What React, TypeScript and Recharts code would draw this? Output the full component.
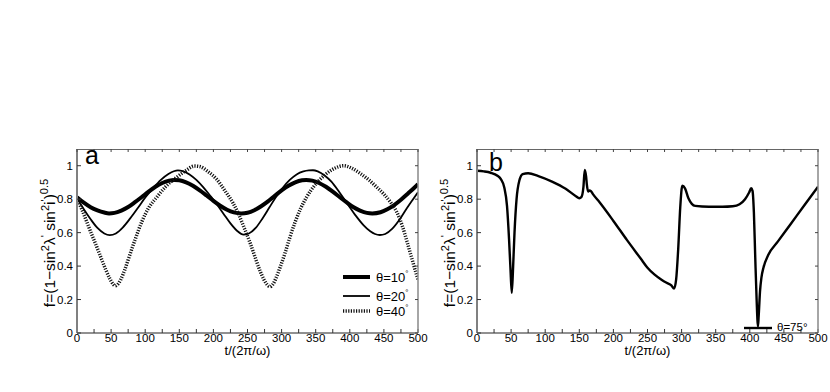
import React from 'react';
import { LineChart, Line, XAxis, YAxis, Legend } from 'recharts';

// ---------- axes ----------
const X_TICKS = [0, 25, 50, 75, 100, 125, 150, 175, 200, 225, 250, 275, 300, 325, 350, 375, 400, 425, 450, 475, 500];
const Y_TICKS = [0, 0.2, 0.4, 0.6, 0.8, 1];
const X_DOMAIN: [number, number] = [0, 500];
const Y_DOMAIN: [number, number] = [0, 1.1];

// ---------- panel a : theta = 10 deg ----------
const T10 = [0, 10, 20, 30, 40, 47, 55, 65, 75, 85, 95, 105, 115, 125, 135, 143, 150, 160, 170, 180, 190, 200, 210, 220, 230, 241, 250, 260, 270, 280, 290, 300, 310, 320, 330, 336, 345, 355, 365, 375, 385, 395, 405, 415, 425, 433, 445, 455, 465, 475, 485, 495, 500];
const F10 = [0.812, 0.779, 0.752, 0.733, 0.720, 0.715, 0.718, 0.732, 0.753, 0.782, 0.813, 0.845, 0.874, 0.897, 0.911, 0.915, 0.913, 0.901, 0.880, 0.853, 0.822, 0.790, 0.761, 0.737, 0.721, 0.715, 0.719, 0.734, 0.758, 0.787, 0.820, 0.852, 0.880, 0.901, 0.913, 0.915, 0.911, 0.897, 0.874, 0.845, 0.813, 0.782, 0.753, 0.732, 0.718, 0.715, 0.722, 0.740, 0.765, 0.797, 0.833, 0.870, 0.890];

// ---------- panel a : theta = 20 deg ----------
const T20 = [0, 10, 20, 30, 40, 48, 57, 67, 78, 90, 101, 112, 123, 134, 142, 148, 155, 165, 175, 185, 195, 205, 215, 225, 235, 244, 252, 262, 272, 282, 292, 302, 312, 322, 332, 340, 346, 353, 363, 373, 385, 397, 409, 420, 430, 437, 444, 452, 462, 472, 482, 492, 500];
const F20 = [0.805, 0.740, 0.680, 0.628, 0.595, 0.585, 0.595, 0.630, 0.685, 0.752, 0.815, 0.868, 0.915, 0.950, 0.967, 0.972, 0.968, 0.948, 0.915, 0.872, 0.822, 0.770, 0.712, 0.655, 0.610, 0.588, 0.595, 0.628, 0.685, 0.750, 0.815, 0.870, 0.915, 0.948, 0.966, 0.972, 0.973, 0.966, 0.942, 0.905, 0.840, 0.770, 0.700, 0.645, 0.608, 0.592, 0.586, 0.592, 0.622, 0.672, 0.735, 0.795, 0.842];

// ---------- panel a : theta = 40 deg ----------
const T40 = [0, 7, 14, 21, 28, 35, 42, 48, 53, 56, 59, 64, 70, 77, 85, 95, 105, 117, 130, 146, 160, 172, 180, 192, 205, 217, 229, 237, 245, 253, 261, 268, 274, 279, 283, 287, 292, 298, 305, 312, 320, 328, 337, 350, 365, 378, 391, 403, 415, 428, 440, 450, 460, 469, 477, 484, 491, 497, 500];
const F40 = [0.805, 0.740, 0.668, 0.595, 0.525, 0.452, 0.380, 0.325, 0.292, 0.282, 0.288, 0.318, 0.378, 0.462, 0.556, 0.665, 0.748, 0.812, 0.875, 0.930, 0.972, 0.998, 0.995, 0.965, 0.918, 0.850, 0.775, 0.710, 0.630, 0.548, 0.455, 0.375, 0.320, 0.288, 0.277, 0.290, 0.330, 0.395, 0.478, 0.570, 0.665, 0.745, 0.815, 0.890, 0.950, 0.985, 1.0, 0.985, 0.955, 0.915, 0.870, 0.830, 0.780, 0.722, 0.640, 0.545, 0.445, 0.360, 0.320];

// ---------- panel b : theta = 75 deg ----------
const T75 = [0, 10, 20, 30, 35, 40, 44, 47, 49, 51, 53, 55, 58, 62, 67, 75, 90, 110, 130, 145, 150, 153, 156, 158, 160, 161, 163, 165, 167, 170, 180, 200, 220, 240, 250, 260, 270, 278, 285, 289, 292, 295, 298, 301, 305, 310, 315, 320, 340, 360, 375, 385, 393, 399, 402, 404, 406, 408, 410, 412, 413, 415, 417, 420, 427, 441, 460, 480, 500];
const F75 = [0.970, 0.966, 0.958, 0.940, 0.920, 0.870, 0.760, 0.560, 0.390, 0.240, 0.400, 0.600, 0.800, 0.910, 0.950, 0.955, 0.938, 0.905, 0.862, 0.818, 0.806, 0.812, 0.870, 0.975, 0.935, 0.890, 0.845, 0.852, 0.848, 0.830, 0.780, 0.670, 0.555, 0.445, 0.390, 0.350, 0.320, 0.300, 0.285, 0.265, 0.320, 0.500, 0.750, 0.880, 0.865, 0.805, 0.772, 0.760, 0.755, 0.755, 0.758, 0.770, 0.800, 0.840, 0.865, 0.850, 0.720, 0.450, 0.200, 0.040, 0.100, 0.250, 0.330, 0.390, 0.466, 0.546, 0.652, 0.764, 0.875];

const toRows = (ts: number[], fs: number[]) => ts.map((t, i) => ({ t, f: fs[i] }));

const FONT = "'Liberation Sans', Arial, Helvetica, sans-serif";
const W = 430;
const H = 392;
const MARGIN = { top: 149, right: 12, bottom: 19, left: 0 };
const PLOT_L = 77;
const PLOT_T = 149;
const PLOT_W = 341;
const PLOT_H = 184;
const PLOT_CY = PLOT_T + PLOT_H / 2;
const PLOT_CX = PLOT_L + PLOT_W / 2;

const SUP = 11;

// y-axis title, panel letter, and the box frame (top/right edges with inward ticks)
function YLabel(props: any) {
  const { letter, lx, ly, viewBox } = props;
  const top = viewBox && typeof viewBox.y === 'number' ? viewBox.y : PLOT_T;
  const h = viewBox && typeof viewBox.height === 'number' ? viewBox.height : PLOT_H;
  const left = viewBox && typeof viewBox.x === 'number' ? viewBox.x + viewBox.width : PLOT_L;
  const right = left + PLOT_W;
  const sx = (t: number) => left + ((t - X_DOMAIN[0]) / (X_DOMAIN[1] - X_DOMAIN[0])) * PLOT_W;
  const sy = (v: number) => top + h - ((v - Y_DOMAIN[0]) / (Y_DOMAIN[1] - Y_DOMAIN[0])) * h;
  return (
    <g>
      <line x1={left} x2={right} y1={top + 0.5} y2={top + 0.5} stroke="#666" strokeWidth={1} />
      <line x1={right} x2={right} y1={top} y2={top + h} stroke="#888" strokeWidth={1.5} />
      {X_TICKS.map((t) => (
        <line key={'tx' + t} x1={sx(t)} x2={sx(t)} y1={top} y2={top + 3} stroke="#444" strokeWidth={1} />
      ))}
      {Y_TICKS.map((v) => (
        <line key={'ty' + v} x1={right - 3} x2={right} y1={sy(v)} y2={sy(v)} stroke="#444" strokeWidth={1} />
      ))}
      <text
        transform={`translate(55, ${PLOT_CY + 2}) rotate(-90)`}
        textAnchor="middle"
        fontSize={15.5}
        fontFamily={FONT}
        fill="#000"
      >
        <tspan>f=(1−sin</tspan>
        <tspan dy={-6} fontSize={SUP}>2</tspan>
        <tspan dy={6}>λ</tspan>
        <tspan dy={-6} fontSize={SUP}>'</tspan>
        <tspan dy={6}> sin</tspan>
        <tspan dy={-6} fontSize={SUP}>2</tspan>
        <tspan dy={6}>i</tspan>
        <tspan dy={-6} fontSize={SUP}>'</tspan>
        <tspan dy={6}>)</tspan>
        <tspan dy={-7} fontSize={SUP}>0.5</tspan>
      </text>
      <text x={lx} y={ly} fontSize={25} fontFamily={FONT} fill="#000">{letter}</text>
    </g>
  );
}

function XLabel() {
  return (
    <text x={PLOT_CX} y={355} textAnchor="middle" fontSize={13} fontFamily={FONT} fill="#000">
      t/(2π/ω)
    </text>
  );
}

const LegendA = () => (
  <svg width={90} height={56} style={{ overflow: 'visible', display: 'block' }}>
    <line x1={5} x2={32} y1={11} y2={11} stroke="#000" strokeWidth={4} />
    <line x1={5} x2={32} y1={30} y2={30} stroke="#000" strokeWidth={1.8} />
    <line x1={5} x2={32} y1={45} y2={45} stroke="#111" strokeWidth={3.5} strokeDasharray="1.2 1.4" />
    {[['10', 11], ['20', 30], ['40', 45]].map(([v, y]) => (
      <text key={v as string} x={38} y={(y as number) + 4.5} fontSize={13} fontFamily={FONT} fill="#000">
        θ={v}
        <tspan dy={-6} fontSize={8}>°</tspan>
      </text>
    ))}
  </svg>
);

const LegendB = () => (
  <svg width={80} height={20} style={{ overflow: 'visible', display: 'block' }}>
    <line x1={4} x2={32} y1={10} y2={10} stroke="#000" strokeWidth={2.4} />
    <text x={37} y={12.5} fontSize={11.5} fontFamily={FONT} fill="#000">θ=75°</text>
  </svg>
);

type S = { key: string; rows: { t: number; f: number }[]; width: number; color: string; dash?: string };

const tickStyle = { fontSize: 11.5, fill: '#000', fontFamily: FONT };

function Panel({ series, letter, lx, ly, legend, legendPos }: { series: S[]; letter: string; lx: number; ly: number; legend: any; legendPos: any }) {
  return (
    <LineChart width={W} height={H} margin={MARGIN}>
      <XAxis
        dataKey="t"
        type="number"
        domain={X_DOMAIN}
        ticks={X_TICKS}
        interval={0}
        allowDataOverflow
        tickFormatter={(v: number) => (v % 50 === 0 ? String(v) : '')}
        tickSize={-4}
        tickMargin={5}
        height={40}
        axisLine={{ stroke: '#222', strokeWidth: 1 }}
        tickLine={{ stroke: '#333' }}
        tick={tickStyle}
        label={<XLabel />}
      />
      <YAxis
        type="number"
        domain={Y_DOMAIN}
        ticks={Y_TICKS}
        interval={0}
        allowDataOverflow
        tickFormatter={(v: number) => (v === 0 ? '0' : v === 1 ? '1' : v.toFixed(1))}
        tickSize={-4}
        tickMargin={8}
        width={77}
        axisLine={{ stroke: '#808080', strokeWidth: 2 }}
        tickLine={{ stroke: '#333' }}
        tick={tickStyle}
        label={<YLabel letter={letter} lx={lx} ly={ly} />}
      />
      {series.map((s) => (
        <Line
          key={s.key}
          data={s.rows}
          dataKey="f"
          name={s.key}
          type="monotone"
          stroke={s.color}
          strokeWidth={s.width}
          strokeDasharray={s.dash}
          dot={false}
          activeDot={false}
          isAnimationActive={false}
        />
      ))}
      <Legend
        layout="vertical"
        align="center"
        verticalAlign="middle"
        content={legend}
        wrapperStyle={{ ...legendPos }}
      />
    </LineChart>
  );
}

const SERIES_A: S[] = [
  { key: 'θ=10°', rows: toRows(T10, F10), width: 4, color: '#000' },
  { key: 'θ=20°', rows: toRows(T20, F20), width: 1.8, color: '#000' },
  { key: 'θ=40°', rows: toRows(T40, F40), width: 3.5, color: '#111', dash: '1.2 1.4' },
];
const SERIES_B: S[] = [{ key: 'θ=75°', rows: toRows(T75, F75), width: 2.4, color: '#000' }];

export default function App() {
  return (
    <div style={{ position: 'absolute', left: 0, top: 0, width: 830, height: 392, background: '#fff', overflow: 'hidden' }}>
      <div style={{ position: 'absolute', left: 0, top: 0 }}>
        <Panel series={SERIES_A} letter="a" lx={85} ly={164} legend={LegendA} legendPos={{ left: 338, top: 266, width: 90, height: 56 }} />
      </div>
      <div style={{ position: 'absolute', left: 400, top: 0 }}>
        <Panel series={SERIES_B} letter="b" lx={89} ly={171} legend={LegendB} legendPos={{ left: 340, top: 318, width: 80, height: 20 }} />
      </div>
    </div>
  );
}
